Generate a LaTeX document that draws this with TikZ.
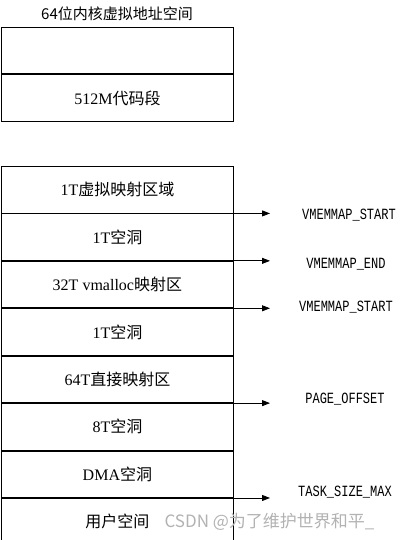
\documentclass[tikz,border=0pt]{standalone}
\usepackage{fontspec}
\setmainfont{Liberation Serif}
\newfontfamily\cjk{Noto Sans CJK SC}
\newfontfamily\monof{Liberation Mono}
\usetikzlibrary{arrows.meta}
\newcommand{\tallmono}[1]{\scalebox{1}[1.3]{\monof\fontsize{12}{12}\selectfont #1}}
\begin{document}
\begin{tikzpicture}[x=1pt,y=-1pt,
  cell/.style={draw, line width=0.8pt, minimum width=232pt, minimum height=46.625pt,
    inner sep=0pt, anchor=north west, font=\fontsize{16}{16}\selectfont},
  topcell/.style={cell, minimum height=46.5pt},
  lbl/.style={inner sep=1pt},
  ptr/.style={-{Triangle[length=8pt,width=6pt]}, line width=0.8pt}]
\useasboundingbox (0,0) rectangle (407,540);
% title
\node[font=\cjk\fontsize{15}{15}\selectfont] (title) at (117,14) {64位内核虚拟地址空间};
% top box
\node[topcell] (a1) at (1,27) {};
\node[topcell, anchor=north west] (a2) at (a1.south west) {512M{\cjk 代码段}};
% lower box
\node[cell] (c1) at (1,166) {1T{\cjk 虚拟映射区域}};
\node[cell] (c2) at (c1.south west) {1T{\cjk 空洞}};
\node[cell] (c3) at (c2.south west) {32T vmalloc{\cjk 映射区}};
\node[cell] (c4) at (c3.south west) {1T{\cjk 空洞}};
\node[cell] (c5) at (c4.south west) {64T{\cjk 直接映射区}};
\node[cell] (c6) at (c5.south west) {8T{\cjk 空洞}};
\node[cell] (c7) at (c6.south west) {DMA{\cjk 空洞}};
\node[cell] (c8) at (c7.south west) {{\cjk 用户空间}};
% arrows
\coordinate (tip) at (270,0);
\draw[ptr] (c1.south east) -- (c1.south east -| tip);
\draw[ptr] (c2.south east) -- (c2.south east -| tip);
\draw[ptr] (c3.south east) -- (c3.south east -| tip);
\draw[ptr] (c5.south east) -- (c5.south east -| tip);
\draw[ptr] (c7.south east) -- (c7.south east -| tip);
% labels
\node[lbl] (l1) at (349,215) {\tallmono{VMEMMAP\_START}};
\node[lbl] (l2) at (346,264) {\tallmono{VMEMMAP\_END}};
\node[lbl] (l3) at (346,307) {\tallmono{VMEMMAP\_START}};
\node[lbl] (l4) at (345,399) {\tallmono{PAGE\_OFFSET}};
\node[lbl] (l5) at (345,492) {\tallmono{TASK\_SIZE\_MAX}};
% watermark
\node[font=\cjk\fontsize{17}{17}\selectfont, text=black!30, anchor=west] (wm) at (161,522) {CSDN @为了维护世界和平\_};
\end{tikzpicture}
\end{document}
